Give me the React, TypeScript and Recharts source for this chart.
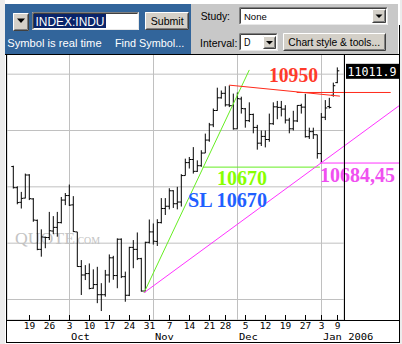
import React from 'react';
import { ComposedChart, Bar, XAxis, YAxis, CartesianGrid, ReferenceLine, ReferenceDot } from 'recharts';

// Daily OHLC of INDEX:INDU, 13 Sep 2005 .. 9 Jan 2006 (trading days)
const opens = [
  10672, 10597, 10545, 10560, 10642, 10557, 10481, 10378, 10421, 10420, 10443, 10456, 10473, 10553,
  10569, 10536, 10440, 10317, 10287, 10292, 10240, 10253, 10217, 10217, 10287, 10348, 10285, 10414, 10281, 10215, 10385, 10378, 10345, 10230, 10403,
  10440, 10406, 10473, 10523, 10531, 10586, 10540, 10546, 10640, 10686, 10697, 10655, 10675, 10720, 10766, 10820, 10871, 10916, 10932, 10891, 10888,
  10806, 10912, 10877, 10835, 10857, 10811, 10755, 10779, 10768, 10824, 10884, 10882, 10876, 10837, 10806, 10834, 10889, 10883, 10778, 10796, 10785,
  10718, 10847, 10885, 10925, 10970,
];
const highs = [
  10675, 10602, 10582, 10647, 10645, 10560, 10484, 10449, 10423, 10511, 10496, 10511, 10564, 10578,
  10608, 10567, 10440, 10340, 10322, 10328, 10307, 10316, 10258, 10305, 10360, 10355, 10417, 10417, 10299, 10387, 10411, 10438, 10348, 10405, 10484,
  10470, 10485, 10560, 10560, 10595, 10588, 10600, 10645, 10700, 10706, 10741, 10694, 10730, 10789, 10827, 10878, 10952, 10942, 10957, 10960, 10931,
  10935, 10920, 10880, 10900, 10860, 10820, 10800, 10800, 10860, 10900, 10905, 10905, 10890, 10845, 10870, 10890, 10895, 10930, 10810, 10810, 10785,
  10862, 10908, 10916, 10970, 11024,
];
const lows = [
  10594, 10538, 10523, 10559, 10553, 10476, 10375, 10352, 10382, 10411, 10432, 10423, 10470, 10535,
  10532, 10440, 10316, 10216, 10269, 10236, 10238, 10187, 10159, 10210, 10260, 10270, 10240, 10276, 10192, 10212, 10311, 10340, 10228, 10226, 10399,
  10395, 10390, 10470, 10500, 10520, 10525, 10520, 10530, 10640, 10665, 10647, 10653, 10671, 10720, 10760, 10812, 10870, 10913, 10885, 10883, 10803,
  10806, 10860, 10810, 10830, 10790, 10732, 10745, 10740, 10760, 10820, 10840, 10850, 10825, 10790, 10800, 10830, 10860, 10775, 10770, 10770, 10700,
  10684.45, 10837, 10878, 10920, 10968,
];
const closes = [
  10597, 10544, 10559, 10642, 10558, 10482, 10378, 10422, 10420, 10444, 10456, 10473, 10553, 10569,
  10535, 10441, 10317, 10287, 10292, 10239, 10253, 10217, 10217, 10287, 10348, 10285, 10414, 10281, 10215, 10385, 10378, 10345, 10230, 10403, 10440,
  10407, 10473, 10523, 10531, 10586, 10540, 10546, 10640, 10686, 10697, 10655, 10675, 10720, 10766, 10820, 10871, 10916, 10932, 10891, 10888, 10806,
  10913, 10878, 10835, 10857, 10811, 10755, 10779, 10768, 10824, 10884, 10882, 10876, 10837, 10806, 10834, 10889, 10883, 10778, 10796, 10785, 10718,
  10847, 10880, 10882, 10959, 11011.9,
];

const weekTickIdx = [4, 9, 14, 19, 24, 29, 34, 39, 44, 49, 53, 58, 63, 68, 73, 77, 81];
const weekTickLabels = ['19', '26', '3', '10', '17', '24', '31', '7', '14', '21', '28', '5', '12', '19', '27', '3', '9'];
const monthStartIdx = [14, 35, 56, 77];
const monthLabels = ['Oct', 'Nov', 'Dec', 'Jan 2006'];
const priceTicks = [10200, 10300, 10400, 10500, 10600, 10700, 10800, 10900, 11000];
const gridPrices = [10200, 10400, 10600, 10800, 11000];
const lastPrice = 11011.9;

// hand-drawn trend lines (index, price)
const greenTrend = [{ x: 32.625, y: 10224 }, { x: 58.95, y: 11015 }];
const greenLevel = [{ x: 47.3, y: 10670 }, { x: 76.6, y: 10670 }];
const magentaTrend = [{ x: 32.625, y: 10224 }, { x: 96.6, y: 10890 }];
const magentaLevel = [{ x: 76.6, y: 10684.45 }, { x: 96.6, y: 10684.45 }];
const redTrend = [{ x: 53.95, y: 10961 }, { x: 81.6, y: 10922 }];
const redLevel = [{ x: 70.8, y: 10935 }, { x: 94.3, y: 10935 }];

const data = closes.map((c, i) => ({
  i,
  open: opens[i],
  high: highs[i],
  low: lows[i],
  close: c,
  range: [lows[i], highs[i]],
}));

const X_DOMAIN: [number, number] = [-1.625, 82.625];
const Y_DOMAIN: [number, number] = [10127.2, 11071.6];

const MONO = "'DejaVu Sans Mono', monospace";
const SANS = "'Liberation Sans', Arial, sans-serif";
const SERIF = "'Liberation Serif', 'Times New Roman', serif";

const OhlcShape = (props: any) => {
  const { x, y, width, height, payload } = props;
  if (x == null || y == null || !payload) return null;
  const cx = x + width / 2;
  const top = Math.min(y, y + height);
  const bot = Math.max(y, y + height);
  const span = payload.high - payload.low;
  const yOf = (v: number) => (span > 0 ? top + ((payload.high - v) / span) * (bot - top) : top);
  const yo = yOf(payload.open);
  const yc = yOf(payload.close);
  return (
    <g stroke="#000" strokeWidth={1}>
      <line x1={cx} x2={cx} y1={top} y2={bot} />
      <line x1={cx - 2} x2={cx} y1={yo} y2={yo} />
      <line x1={cx} x2={cx + 2} y1={yc} y2={yc} />
    </g>
  );
};

const DayTick = (props: any) => {
  const { x, y, payload } = props;
  const k = weekTickIdx.indexOf(payload.value);
  return (
    <g>
      <line x1={x} x2={x} y1={y - 5} y2={y} stroke="#000" strokeWidth={1} />
      <text x={x} y={y + 9} textAnchor="middle" fontFamily={MONO} fontSize={9.5} fill="#000">
        {k >= 0 ? weekTickLabels[k] : ''}
      </text>
    </g>
  );
};

const MonthTick = (props: any) => {
  const { x, y, payload } = props;
  const k = monthStartIdx.indexOf(payload.value);
  const label = k >= 0 ? monthLabels[k] : '';
  return (
    <text
      x={x + 1.5}
      y={y + 9}
      textAnchor="start"
      fontFamily={MONO}
      fontSize={9.5}
      fill="#000"
      textLength={label.length * 6.3}
      lengthAdjust="spacingAndGlyphs"
    >
      {label}
    </text>
  );
};

const PriceTick = (props: any) => {
  const { x, y, payload } = props;
  const v = payload.value as number;
  const major = v % 200 === 0;
  const ax = x + 0.5;
  return (
    <g>
      <line x1={ax - 2} x2={major ? ax + 2.5 : ax} y1={y} y2={y} stroke="#000" strokeWidth={1} />
      {major && v !== 11000 && (
        <text x={ax + 1.5} y={y + 4} fontFamily={MONO} fontSize={10} fill="#000" textLength={49} lengthAdjust="spacingAndGlyphs">
          {v.toFixed(2)}
        </text>
      )}
    </g>
  );
};

const textLabel = (txt: string, color: string, len: number) => (p: any) => (
  <text
    x={p.cx}
    y={p.cy}
    fontFamily={SERIF}
    fontWeight="bold"
    fontSize={20}
    fill={color}
    textLength={len}
    lengthAdjust="spacingAndGlyphs"
  >
    {txt}
  </text>
);

const LastPriceBox = (p: any) => (
  <g>
    <rect x={p.cx + 2} y={p.cy - 7} width={53} height={15} fill="#000" />
    <text x={p.cx + 3.5} y={p.cy + 5} fontFamily={MONO} fontSize={12} fill="#fff" textLength={49} lengthAdjust="spacingAndGlyphs">
      {lastPrice.toFixed(1)}
    </text>
  </g>
);

const Raised = ({ x, y, w, h }: { x: number; y: number; w: number; h: number }) => (
  <g>
    <rect x={x} y={y} width={w} height={h} fill="#d4d0c8" />
    <path d={`M${x + 0.5} ${y + h - 0.5} V${y + 0.5} H${x + w - 0.5}`} stroke="#ffffff" fill="none" />
    <path d={`M${x + 0.5} ${y + h - 0.5} H${x + w - 0.5} V${y + 0.5}`} stroke="#404040" fill="none" />
    <path d={`M${x + 1.5} ${y + h - 1.5} H${x + w - 1.5} V${y + 1.5}`} stroke="#808080" fill="none" />
  </g>
);

const Sunken = ({ x, y, w, h }: { x: number; y: number; w: number; h: number }) => (
  <g>
    <rect x={x} y={y} width={w} height={h} fill="#ffffff" />
    <path d={`M${x + 0.5} ${y + h - 0.5} V${y + 0.5} H${x + w - 0.5}`} stroke="#808080" fill="none" />
    <path d={`M${x + 1.5} ${y + h - 1.5} V${y + 1.5} H${x + w - 1.5}`} stroke="#404040" fill="none" />
    <path d={`M${x + 0.5} ${y + h - 0.5} H${x + w - 0.5} V${y + 0.5}`} stroke="#e8e8e8" fill="none" />
  </g>
);

const Arrow = ({ cx, cy }: { cx: number; cy: number }) => (
  <path d={`M${cx - 3.5} ${cy - 1.5} H${cx + 3.5} L${cx} ${cy + 2} Z`} fill="#000" />
);

const HText = ({ x, y, len, size, fill = '#000', children }: any) => (
  <text x={x} y={y} fontFamily={SANS} fontSize={size} fill={fill} textLength={len} lengthAdjust="spacingAndGlyphs">
    {children}
  </text>
);

const Header = () => (
  <svg width={402} height={54} style={{ position: 'absolute', left: 0, top: 0 }}>
    <rect x={5} y={4} width={186} height={50} fill="#32659b" />
    <rect x={191} y={4} width={207} height={50} fill="#c8c8c8" />
    <Raised x={13} y={13} w={16} h={18} />
    <path d="M17 18.5 H25 L21 23 Z" fill="#000" />
    <Sunken x={32} y={12} w={107} h={18} />
    <rect x={34} y={14} width={72} height={14} fill="#0a246a" />
    <text x={35.5} y={26} fontFamily={SANS} fontSize={13} fill="#fff" textLength={69} lengthAdjust="spacingAndGlyphs">
      INDEX:INDU
    </text>
    <Raised x={145} y={12} w={44} h={18} />
    <HText x={150.7} y={25} len={33} size={10.6}>Submit</HText>
    <HText x={7.3} y={46.5} len={94.3} size={11} fill="#fff">Symbol is real time</HText>
    <HText x={115} y={46.5} len={69.3} size={10.8} fill="#fff">Find Symbol...</HText>
    <HText x={200.7} y={20} len={29.3} size={10.3}>Study:</HText>
    <Sunken x={239} y={7} w={149} h={18} />
    <HText x={244} y={19.5} len={22.7} size={9.5}>None</HText>
    <Raised x={372} y={9} w={14} h={14} />
    <Arrow cx={379} cy={16} />
    <HText x={200} y={46.5} len={37.3} size={10.4}>Interval:</HText>
    <Sunken x={239} y={33} w={39} h={18} />
    <HText x={244} y={46.3} len={6.5} size={10}>D</HText>
    <Raised x={263} y={36} w={13} h={13} />
    <Arrow cx={269.5} cy={42.5} />
    <Raised x={283} y={33} w={103} h={18} />
    <HText x={288.3} y={45.7} len={91.7} size={10.2}>{'Chart style & tools...'}</HText>
  </svg>
);

const Frame = () => (
  <svg width={402} height={344} style={{ position: 'absolute', left: 0, top: 0, pointerEvents: 'none' }}>
    <g stroke="#000" strokeWidth={1} fill="none">
      <path d="M5 54.5 H400" />
      <path d="M6.5 54 V343" />
      <path d="M6 342.5 H400" />
      <path d="M399.5 25 V343" />
      <path d="M6 320.5 H400" />
      <path d="M344.5 54 V321" />
    </g>
  </svg>
);

const Backdrop = () => (
  <svg width={402} height={344} style={{ position: 'absolute', left: 0, top: 0 }}>
    <rect x={0} y={0} width={402} height={344} fill="#ffffff" />
    <rect x={0} y={0} width={5} height={344} fill="#ececec" />
    <rect x={400} y={0} width={2} height={344} fill="#ececec" />
    <text x={15} y={244} fontFamily={SERIF} fontSize={16.5} fill="#c4c4c4" textLength={60} lengthAdjust="spacingAndGlyphs">
      QUOTE
    </text>
    <text x={75} y={243.5} fontFamily={SERIF} fontSize={10} fill="#c4c4c4" textLength={25} lengthAdjust="spacingAndGlyphs">
      .COM
    </text>
  </svg>
);

export default function App() {
  return (
    <div style={{ position: 'absolute', left: 0, top: 0, width: 402, height: 344, overflow: 'hidden' }}>
      <Backdrop />
      <div style={{ position: 'absolute', left: 0, top: 0 }}>
        <ComposedChart width={402} height={344} data={data} margin={{ top: 54, right: 2, bottom: 2, left: 7 }}>
          <XAxis
            xAxisId="day"
            dataKey="i"
            type="number"
            domain={X_DOMAIN}
            allowDataOverflow
            ticks={weekTickIdx}
            interval={0}
            height={11}
            axisLine={false}
            tickLine={false}
            tickSize={0}
            tickMargin={0}
            tick={DayTick}
          />
          <XAxis
            xAxisId="m"
            dataKey="i"
            type="number"
            domain={X_DOMAIN}
            allowDataOverflow
            ticks={monthStartIdx}
            interval={0}
            height={11}
            axisLine={false}
            tickLine={false}
            tickSize={0}
            tickMargin={0}
            tick={MonthTick}
          />
          <YAxis
            yAxisId="p"
            orientation="right"
            type="number"
            domain={Y_DOMAIN}
            allowDataOverflow
            ticks={priceTicks}
            interval={0}
            width={56}
            axisLine={false}
            tickLine={false}
            tickSize={0}
            tickMargin={0}
            tick={PriceTick}
          />
          <YAxis yAxisId="g" orientation="right" type="number" domain={Y_DOMAIN} allowDataOverflow ticks={gridPrices} hide />
          <CartesianGrid xAxisId="m" yAxisId="g" stroke="#c0c0c0" strokeWidth={1} />
          <Bar
            xAxisId="day"
            yAxisId="p"
            dataKey="range"
            barSize={4}
            shape={(p: any) => <OhlcShape {...p} />}
            isAnimationActive={false}
          />
          <ReferenceLine xAxisId="day" yAxisId="p" segment={greenTrend} stroke="#66ee22" strokeWidth={1} ifOverflow="visible" />
          <ReferenceLine xAxisId="day" yAxisId="p" segment={greenLevel} stroke="#66ee22" strokeWidth={1} ifOverflow="visible" />
          <ReferenceLine xAxisId="day" yAxisId="p" segment={magentaTrend} stroke="#ff33ff" strokeWidth={1} ifOverflow="visible" />
          <ReferenceLine xAxisId="day" yAxisId="p" segment={magentaLevel} stroke="#ff33ff" strokeWidth={1} ifOverflow="visible" />
          <ReferenceLine xAxisId="day" yAxisId="p" segment={redTrend} stroke="#ff2a1a" strokeWidth={1} ifOverflow="visible" />
          <ReferenceLine xAxisId="day" yAxisId="p" segment={redLevel} stroke="#ff2a1a" strokeWidth={1} ifOverflow="visible" />
          <ReferenceDot xAxisId="day" yAxisId="p" x={63.875} y={10972} r={0} ifOverflow="visible" shape={textLabel('10950', '#ff3a2a', 49)} />
          <ReferenceDot xAxisId="day" yAxisId="p" x={50.875} y={10606} r={0} ifOverflow="visible" shape={textLabel('10670', '#88ff00', 50)} />
          <ReferenceDot xAxisId="day" yAxisId="p" x={43.625} y={10528} r={0} ifOverflow="visible" shape={textLabel('SL 10670', '#1f5fff', 79)} />
          <ReferenceDot xAxisId="day" yAxisId="p" x={76.625} y={10618} r={0} ifOverflow="visible" shape={textLabel('10684,45', '#f050f0', 75)} />
          <ReferenceDot xAxisId="day" yAxisId="p" x={X_DOMAIN[1]} y={lastPrice} r={0} ifOverflow="visible" shape={LastPriceBox} />
        </ComposedChart>
      </div>
      <Header />
      <Frame />
    </div>
  );
}
